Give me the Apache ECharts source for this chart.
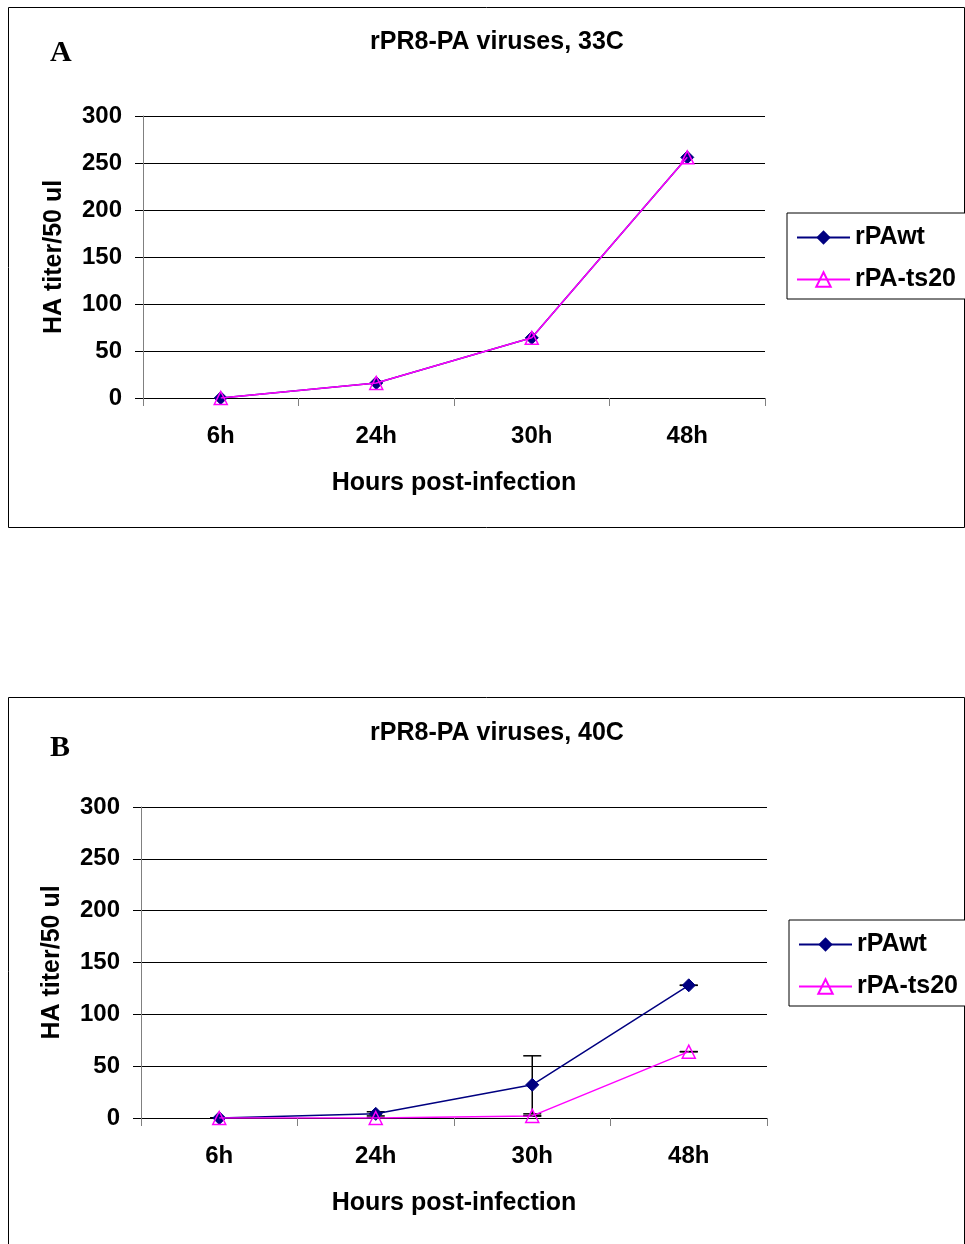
<!DOCTYPE html>
<html>
<head>
<meta charset="utf-8">
<script src="https://cdn.jsdelivr.net/npm/echarts@6/dist/echarts.min.js"></script>
<style>
html,body{margin:0;padding:0;background:#fff;}
#c{width:965px;height:1244px;}
</style>
</head>
<body>
<div id="c"></div>
<script>
// ---- data ----
var categories = ['6h', '24h', '30h', '48h'];
var seriesNames = ['rPAwt', 'rPA-ts20'];
var titleA = 'rPR8-PA viruses, 33C';
var titleB = 'rPR8-PA viruses, 40C';
var wtA = [0, 16, 64, 256];
var ts20A = [0, 16, 64, 256];
var wtB = [0, 4, 32, 128];
var wtBErr = [0, 2, 28, 0];
var ts20B = [0, 0, 2, 64];
var ts20BErr = [0, 0, 0, 0];
var yTicks = [0, 50, 100, 150, 200, 250, 300];
var xName = 'Hours post-infection';
var yName = 'HA titer/50 ul';

var FONT = '"Liberation Sans", Arial, sans-serif';
var NAVY = '#000080', MAG = '#FF00FF';

function yAxis(gi) {
  return {
    gridIndex: gi, type: 'value', min: yTicks[0], max: yTicks[yTicks.length - 1], interval: 50,
    name: yName, nameLocation: 'middle', nameGap: 76, nameRotate: 90,
    nameTextStyle: {fontFamily: FONT, fontWeight: 'bold', fontSize: 25, color: '#000'},
    axisLine: {show: true, lineStyle: {color: '#808080', width: 1}},
    axisTick: {show: true, length: 8, lineStyle: {color: '#000'}},
    axisLabel: {fontFamily: FONT, fontWeight: 'bold', fontSize: 24, color: '#000', margin: 21},
    splitLine: {show: true, lineStyle: {color: '#000', width: 1}}
  };
}
function xAxis(gi) {
  return {
    gridIndex: gi, type: 'category', data: categories, boundaryGap: true,
    name: xName, nameLocation: 'middle', nameGap: 73,
    nameTextStyle: {fontFamily: FONT, fontWeight: 'bold', fontSize: 25, color: '#000'},
    axisLine: {show: true, lineStyle: {color: '#000', width: 1}},
    axisTick: {show: true, length: 8, alignWithLabel: false, lineStyle: {color: '#808080'}},
    axisLabel: {fontFamily: FONT, fontWeight: 'bold', fontSize: 24, color: '#000', margin: 26, interval: 0},
    splitLine: {show: false}
  };
}
function wtSeries(gi, data) {
  return {
    name: seriesNames[0], type: 'line', xAxisIndex: gi, yAxisIndex: gi, data: data,
    symbol: 'diamond', symbolSize: 13, z: 3,
    lineStyle: {color: NAVY, width: 1.5},
    itemStyle: {color: NAVY, borderColor: NAVY}
  };
}
function tsSeries(gi, data) {
  return {
    name: seriesNames[1], type: 'line', xAxisIndex: gi, yAxisIndex: gi, data: data,
    symbol: 'triangle', symbolSize: 13, z: 4,
    lineStyle: {color: MAG, width: 1.5},
    itemStyle: {color: 'rgba(0,0,0,0)', borderColor: MAG, borderWidth: 1.5}
  };
}
function errSeries(gi, vals, errs) {
  var d = vals.map(function (v, i) { return [i, v - errs[i], v + errs[i]]; });
  return {
    type: 'custom', xAxisIndex: gi, yAxisIndex: gi, data: d, z: 2, silent: true,
    renderItem: function (params, api) {
      var x = api.value(0);
      var lo = api.coord([x, api.value(1)]);
      var hi = api.coord([x, api.value(2)]);
      var w = 9;
      var st = {stroke: '#000', lineWidth: 1.5};
      return {type: 'group', children: [
        {type: 'line', shape: {x1: lo[0], y1: lo[1], x2: hi[0], y2: hi[1]}, style: st},
        {type: 'line', shape: {x1: lo[0] - w, y1: lo[1], x2: lo[0] + w, y2: lo[1]}, style: st},
        {type: 'line', shape: {x1: hi[0] - w, y1: hi[1], x2: hi[0] + w, y2: hi[1]}, style: st}
      ]};
    }
  };
}
function legend(left, top) {
  return {
    orient: 'vertical', left: left, top: top, data: seriesNames,
    backgroundColor: '#fff', borderColor: '#000', borderWidth: 1,
    padding: [12, 12, 7, 9], itemGap: 17, itemWidth: 53, itemHeight: 18,
    textStyle: {fontFamily: FONT, fontWeight: 'bold', fontSize: 25, color: '#000'}
  };
}

var chart = echarts.init(document.getElementById('c'), null, {renderer: 'canvas'});
chart.setOption({
  animation: false,
  backgroundColor: '#fff',
  title: [
    {text: titleA, left: 492, top: 25, textAlign: 'center',
     textStyle: {fontFamily: FONT, fontWeight: 'bold', fontSize: 25, color: '#000'}},
    {text: titleB, left: 492, top: 716, textAlign: 'center',
     textStyle: {fontFamily: FONT, fontWeight: 'bold', fontSize: 25, color: '#000'}}
  ],
  legend: [legend(787, 213), legend(789, 920)],
  grid: [
    {left: 143, top: 116, width: 622, height: 282},
    {left: 141, top: 807, width: 626, height: 311}
  ],
  xAxis: [xAxis(0), xAxis(1)],
  yAxis: [yAxis(0), yAxis(1)],
  series: [
    wtSeries(0, wtA), tsSeries(0, ts20A),
    errSeries(1, wtB, wtBErr), errSeries(1, ts20B, ts20BErr),
    wtSeries(1, wtB), tsSeries(1, ts20B)
  ],
  graphic: [
    {type: 'rect', shape: {x: 8.5, y: 7.5, width: 956, height: 520}, style: {fill: 'none', stroke: '#000', lineWidth: 1}, z: -1},
    {type: 'rect', shape: {x: 8.5, y: 697.5, width: 956, height: 560}, style: {fill: 'none', stroke: '#000', lineWidth: 1}, z: -1},
    {type: 'text', left: 50, top: 38, style: {text: 'A', font: 'bold 30px "Liberation Serif", "Times New Roman", serif', fill: '#000'}},
    {type: 'text', left: 50, top: 733, style: {text: 'B', font: 'bold 30px "Liberation Serif", "Times New Roman", serif', fill: '#000'}}
  ]
});
</script>
</body>
</html>
